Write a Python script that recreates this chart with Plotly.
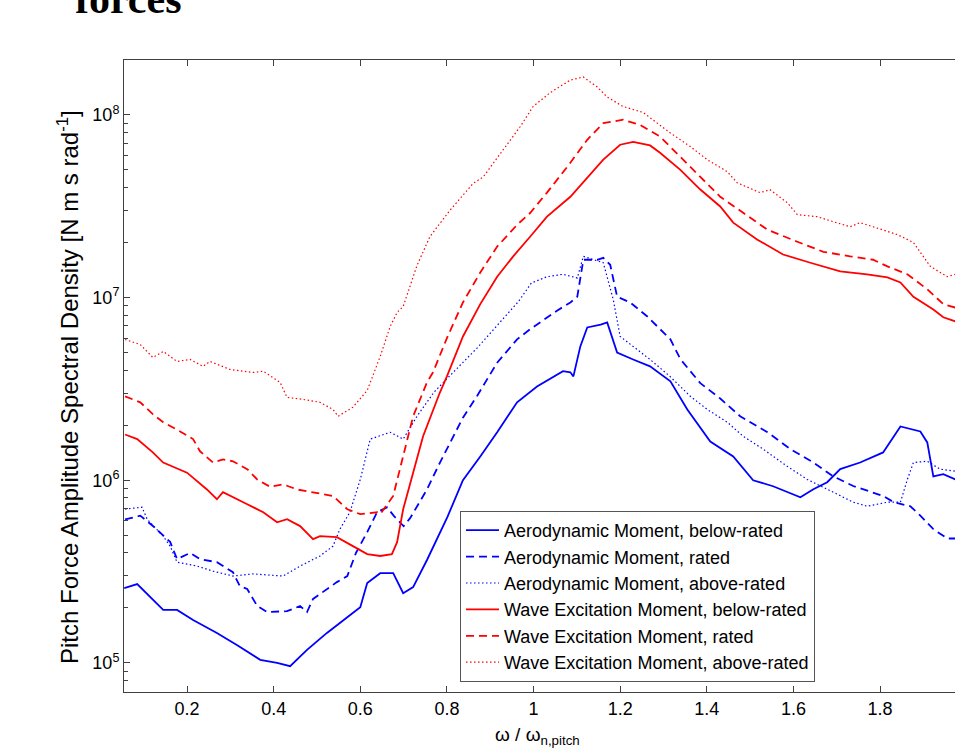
import plotly.graph_objects as go

# ---------------- data ----------------
# Aerodynamic Moment, below-rated
aero_below_x = [0.055, 0.085, 0.145, 0.177, 0.214, 0.269, 0.316, 0.369, 0.408, 0.438,
                0.477, 0.523, 0.570, 0.600, 0.616, 0.646, 0.676, 0.699, 0.722, 0.754,
                0.801, 0.837, 0.877, 0.916, 0.962, 1.008, 1.068, 1.085, 1.092, 1.108,
                1.124, 1.155, 1.170, 1.193, 1.230, 1.269, 1.316, 1.355, 1.408, 1.461,
                1.507, 1.553, 1.616, 1.646, 1.678, 1.708, 1.754, 1.807, 1.847, 1.893,
                1.909, 1.923, 1.946, 1.974]
aero_below_y = [2.57e5, 2.70e5, 1.95e5, 1.95e5, 1.72e5, 1.46e5, 1.25e5, 1.04e5, 1.00e5, 0.96e5,
                1.18e5, 1.46e5, 1.78e5, 2.02e5, 2.74e5, 3.10e5, 3.10e5, 2.41e5, 2.60e5, 3.66e5,
                6.28e5, 1.00e6, 1.35e6, 1.83e6, 2.67e6, 3.26e6, 3.95e6, 3.90e6, 3.70e6, 5.40e6,
                6.86e6, 7.10e6, 7.30e6, 5.00e6, 4.58e6, 4.20e6, 3.48e6, 2.44e6, 1.63e6, 1.35e6,
                1.00e6, 9.27e5, 8.07e5, 8.93e5, 9.75e5, 1.15e6, 1.25e6, 1.42e6, 1.97e6, 1.85e6,
                1.61e6, 1.05e6, 1.08e6, 1.01e6]

# Aerodynamic Moment, rated
aero_rated_x = [0.057, 0.092, 0.122, 0.161, 0.177, 0.207, 0.230, 0.269, 0.306, 0.322,
                0.339, 0.362, 0.385, 0.431, 0.461, 0.477, 0.491, 0.546, 0.570, 0.590,
                0.616, 0.639, 0.662, 0.677, 0.700, 0.715, 0.754, 0.784, 0.837, 0.870,
                0.916, 0.962, 0.992, 1.055, 1.085, 1.101, 1.115, 1.147, 1.161, 1.177,
                1.193, 1.223, 1.262, 1.316, 1.339, 1.385, 1.431, 1.477, 1.540, 1.593,
                1.646, 1.692, 1.738, 1.807, 1.831, 1.870, 1.893, 1.923, 1.955, 1.974]
aero_rated_y = [6.1e5, 6.4e5, 5.6e5, 4.6e5, 3.7e5, 4.0e5, 3.7e5, 3.56e5, 3.14e5, 2.63e5,
                2.54e5, 2.05e5, 1.90e5, 1.92e5, 2.05e5, 1.90e5, 2.24e5, 2.77e5, 2.99e5, 4.0e5,
                5.2e5, 6.7e5, 7.1e5, 6.4e5, 5.6e5, 6.2e5, 8.9e5, 1.25e6, 2.2e6, 2.9e6,
                4.4e6, 5.9e6, 6.7e6, 8.5e6, 9.4e6, 1.01e7, 1.61e7, 1.61e7, 1.65e7, 1.51e7,
                1.01e7, 9.4e6, 7.9e6, 5.9e6, 4.6e6, 3.4e6, 2.8e6, 2.24e6, 1.83e6, 1.48e6,
                1.25e6, 1.05e6, 9.3e5, 8.2e5, 7.6e5, 7.2e5, 6.4e5, 5.4e5, 4.8e5, 4.8e5]

# Aerodynamic Moment, above-rated
aero_above_x = [0.057, 0.096, 0.108, 0.145, 0.161, 0.177, 0.223, 0.260, 0.306, 0.352,
                0.422, 0.461, 0.507, 0.537, 0.553, 0.576, 0.600, 0.623, 0.669, 0.699,
                0.731, 0.770, 0.810, 0.870, 0.922, 0.965, 0.995, 1.031, 1.068, 1.101,
                1.115, 1.138, 1.161, 1.184, 1.200, 1.230, 1.269, 1.315, 1.362, 1.401,
                1.447, 1.484, 1.530, 1.586, 1.632, 1.692, 1.738, 1.770, 1.817, 1.847,
                1.863, 1.877, 1.909, 1.939, 1.974]
aero_above_y = [6.95e5, 7.12e5, 6.12e5, 4.94e5, 4.36e5, 3.56e5, 3.39e5, 3.18e5, 2.99e5, 3.07e5,
                2.99e5, 3.39e5, 3.85e5, 4.36e5, 5.40e5, 6.68e5, 1.01e6, 1.68e6, 1.83e6, 1.68e6,
                2.24e6, 3.03e6, 3.80e6, 5.30e6, 7.30e6, 9.50e6, 1.20e7, 1.30e7, 1.34e7, 1.28e7,
                1.68e7, 1.61e7, 1.55e7, 9.75e6, 6.12e6, 5.40e6, 4.58e6, 3.70e6, 2.88e6, 2.44e6,
                2.08e6, 1.74e6, 1.48e6, 1.19e6, 1.01e6, 8.6e5, 7.58e5, 7.21e5, 7.58e5, 7.58e5,
                1.01e6, 1.25e6, 1.27e6, 1.15e6, 1.12e6]

# Wave Excitation Moment, below-rated
wave_below_x = [0.057, 0.085, 0.121, 0.145, 0.200, 0.246, 0.269, 0.283, 0.339, 0.376,
                0.408, 0.431, 0.461, 0.491, 0.507, 0.546, 0.583, 0.616, 0.646, 0.673,
                0.685, 0.699, 0.722, 0.745, 0.784, 0.800, 0.837, 0.877, 0.916, 0.953,
                0.992, 1.031, 1.085, 1.131, 1.161, 1.200, 1.230, 1.269, 1.292, 1.339,
                1.385, 1.431, 1.461, 1.516, 1.576, 1.639, 1.708, 1.770, 1.817, 1.847,
                1.877, 1.923, 1.946, 1.974]
wave_below_y = [1.78e6, 1.68e6, 1.42e6, 1.25e6, 1.10e6, 8.9e5, 7.87e5, 8.6e5, 7.39e5, 6.68e5,
                5.89e5, 6.12e5, 5.61e5, 4.76e5, 4.94e5, 4.88e5, 4.36e5, 3.94e5, 3.85e5, 3.94e5,
                4.58e5, 6.94e5, 1.10e6, 1.74e6, 3.03e6, 3.70e6, 6.12e6, 9.2e6, 1.30e7, 1.68e7,
                2.15e7, 2.77e7, 3.56e7, 4.70e7, 5.68e7, 6.86e7, 7.10e7, 6.80e7, 6.20e7, 5.00e7,
                3.90e7, 3.15e7, 2.57e7, 2.08e7, 1.72e7, 1.55e7, 1.39e7, 1.34e7, 1.29e7, 1.21e7,
                1.01e7, 8.6e6, 7.8e6, 7.4e6]

# Wave Excitation Moment, rated
wave_rated_x = [0.057, 0.092, 0.121, 0.145, 0.184, 0.214, 0.230, 0.260, 0.283, 0.306,
                0.339, 0.362, 0.392, 0.422, 0.454, 0.491, 0.537, 0.570, 0.600, 0.639,
                0.646, 0.676, 0.699, 0.722, 0.754, 0.768, 0.800, 0.837, 0.877, 0.916,
                0.962, 0.992, 1.031, 1.078, 1.124, 1.161, 1.207, 1.246, 1.292, 1.339,
                1.385, 1.431, 1.484, 1.540, 1.609, 1.669, 1.731, 1.784, 1.817, 1.863,
                1.909, 1.946, 1.974]
wave_rated_y = [2.88e6, 2.67e6, 2.30e6, 2.08e6, 1.85e6, 1.68e6, 1.44e6, 1.25e6, 1.30e6, 1.27e6,
                1.15e6, 1.01e6, 9.2e5, 9.5e5, 8.9e5, 8.6e5, 8.2e5, 6.94e5, 6.52e5, 6.68e5,
                6.52e5, 8.2e5, 1.35e6, 2.24e6, 3.43e6, 3.90e6, 6.0e6, 9.4e6, 1.37e7, 1.90e7,
                2.50e7, 2.90e7, 3.75e7, 5.20e7, 7.30e7, 9.00e7, 9.40e7, 8.80e7, 7.60e7, 5.90e7,
                4.58e7, 3.56e7, 2.91e7, 2.35e7, 2.02e7, 1.78e7, 1.68e7, 1.61e7, 1.48e7, 1.34e7,
                1.11e7, 9.2e6, 8.8e6]

# Wave Excitation Moment, above-rated
wave_above_x = [0.057, 0.092, 0.121, 0.145, 0.177, 0.207, 0.237, 0.253, 0.299, 0.352,
                0.376, 0.415, 0.431, 0.468, 0.507, 0.537, 0.549, 0.583, 0.616, 0.646,
                0.669, 0.685, 0.699, 0.731, 0.761, 0.807, 0.860, 0.884, 0.930, 0.969,
                0.999, 1.038, 1.085, 1.115, 1.147, 1.170, 1.207, 1.253, 1.315, 1.362,
                1.401, 1.447, 1.470, 1.523, 1.546, 1.586, 1.609, 1.655, 1.692, 1.731,
                1.754, 1.807, 1.840, 1.877, 1.916, 1.955, 1.974]
wave_above_y = [5.89e6, 5.53e6, 4.70e6, 5.07e6, 4.47e6, 4.58e6, 4.20e6, 4.47e6, 4.04e6, 3.89e6,
                3.95e6, 3.43e6, 2.84e6, 2.77e6, 2.67e6, 2.44e6, 2.24e6, 2.51e6, 3.10e6, 4.76e6,
                6.94e6, 8.29e6, 8.93e6, 1.50e7, 2.16e7, 3.00e7, 4.20e7, 4.58e7, 6.44e7, 8.60e7,
                1.11e8, 1.32e8, 1.55e8, 1.61e8, 1.42e8, 1.25e8, 1.11e8, 1.03e8, 7.98e7, 6.70e7,
                5.68e7, 4.89e7, 4.25e7, 3.75e7, 3.89e7, 3.30e7, 2.84e7, 2.77e7, 2.60e7, 2.44e7,
                2.57e7, 2.35e7, 2.21e7, 2.00e7, 1.48e7, 1.30e7, 1.34e7]

series_names = ["Aerodynamic Moment, below-rated", "Aerodynamic Moment, rated",
                "Aerodynamic Moment, above-rated", "Wave Excitation Moment, below-rated",
                "Wave Excitation Moment, rated", "Wave Excitation Moment, above-rated"]

x_tickvals = [0.2, 0.4, 0.6, 0.8, 1.0, 1.2, 1.4, 1.6, 1.8]
x_ticktext = ["0.2", "0.4", "0.6", "0.8", "1", "1.2", "1.4", "1.6", "1.8"]
y_tickvals = [1e5, 1e6, 1e7, 1e8]
y_ticktext = ["10<sup>5</sup>", "10<sup>6</sup>", "10<sup>7</sup>", "10<sup>8</sup>"]
y_minor = [k * 10 ** e for e in range(4, 9) for k in range(2, 10)]

# ---------------- figure ----------------
BLUE = "#0000ff"
RED = "#ff0000"
styles = [
    (BLUE, "solid", 1.8),
    (BLUE, "8px,5px", 1.8),
    (BLUE, "1.5px,2.5px", 1.2),
    (RED, "solid", 1.8),
    (RED, "8px,5px", 1.8),
    (RED, "1.5px,2.5px", 1.2),
]
data_xy = [(aero_below_x, aero_below_y), (aero_rated_x, aero_rated_y),
           (aero_above_x, aero_above_y), (wave_below_x, wave_below_y),
           (wave_rated_x, wave_rated_y), (wave_above_x, wave_above_y)]

fig = go.Figure()
for (xs, ys), (col, dash, w), name in zip(data_xy, styles, series_names):
    fig.add_trace(go.Scatter(x=xs, y=ys, mode="lines", name=name,
                             line=dict(color=col, dash=dash, width=w)))

# invisible trace on overlay axis (carries the minor log ticks)
fig.add_trace(go.Scatter(x=[1.0], y=[1e6], yaxis="y2", mode="markers",
                         marker=dict(opacity=0), showlegend=False, hoverinfo="skip"))

FONT = "Liberation Sans, Arial, sans-serif"
AXC = "#404040"
W, H = 955, 749
ML, MT, MB = 124, 60, 57
PW, PH = W - ML, H - MT - MB   # 831 x 632 plot area


def px_x(sx):  # page x -> paper x
    return (sx - ML) / PW


def px_y(sy):  # page y -> paper y
    return (H - MB - sy) / PH


fig.update_layout(
    width=W, height=H,
    margin=dict(l=ML, r=0, t=MT, b=MB, autoexpand=False),
    paper_bgcolor="white", plot_bgcolor="white",
    font=dict(family=FONT, size=18, color="black"),
    showlegend=True,
    legend=dict(x=px_x(460), y=px_y(511), xanchor="left", yanchor="top",
                bgcolor="white", bordercolor="#555555", borderwidth=1,
                font=dict(family=FONT, size=18, color="black"),
                itemwidth=33),
    xaxis=dict(range=[0.0545, 1.973], tickvals=x_tickvals, ticktext=x_ticktext,
               ticks="inside", ticklen=6, tickcolor=AXC, showline=True, linecolor=AXC,
               linewidth=1, mirror="ticks", showgrid=False, zeroline=False,
               tickfont=dict(size=18, color="black")),
    yaxis=dict(type="log", range=[4.841, 8.300], tickvals=y_tickvals, ticktext=y_ticktext,
               ticks="inside", ticklen=6, tickcolor=AXC, showline=True, linecolor=AXC,
               linewidth=1, mirror=False, showgrid=False, zeroline=False,
               tickfont=dict(size=18, color="black")),
    yaxis2=dict(type="log", range=[4.841, 8.300], overlaying="y", side="left", anchor="x",
                tickvals=y_minor, ticks="inside", ticklen=4, tickcolor=AXC,
                showticklabels=False, showline=False, showgrid=False, zeroline=False),
)

fig.add_annotation(text="Pitch Force Amplitude Spectral Density [N m s rad<sup>-1</sup>]",
                   xref="paper", yref="paper", x=px_x(68), y=px_y(387),
                   xanchor="center", yanchor="middle", textangle=-90, showarrow=False,
                   font=dict(family=FONT, size=24, color="black"))
fig.add_annotation(text="ω / ω<sub>n,pitch</sub>",
                   xref="paper", yref="paper", x=px_x(537), y=px_y(722),
                   xanchor="center", yanchor="top", showarrow=False,
                   font=dict(family=FONT, size=19, color="black"))
fig.add_annotation(text="<b>forces</b>",
                   xref="paper", yref="paper", x=px_x(73), y=px_y(24),
                   xanchor="left", yanchor="bottom", showarrow=False,
                   font=dict(family="Liberation Serif, Times New Roman, serif", size=42,
                             color="black"))

# page body without the browser's default margin / scrollbars; no mode bar
fig.write_html("out.html",
               config={"displayModeBar": False},
               post_script="document.body.style.margin='0';"
                           "document.body.style.overflow='hidden';")
